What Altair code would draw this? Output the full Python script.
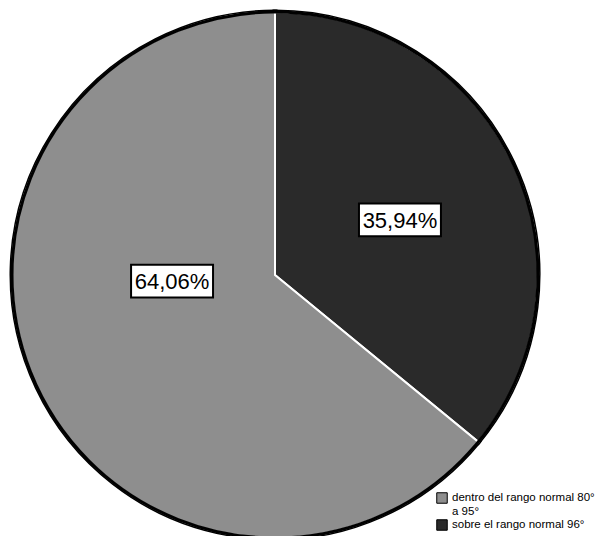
import altair as alt
import pandas as pd

# Temperature categories and their share of the sample (%)
categorias = ["sobre el rango normal 96°", "dentro del rango normal 80° a 95°"]
porcentajes = [35.94, 64.06]
orden = [0, 1]
colores = ["#2a2a2a", "#8e8e8e"]
leyenda = ["dentro del rango normal 80° a 95°", "sobre el rango normal 96°"]

df = pd.DataFrame({"categoria": categorias, "pct": porcentajes, "orden": orden})

R = 263  # pie radius in px

base = alt.Chart(df)

color = alt.Color(
    "categoria:N",
    scale=alt.Scale(domain=leyenda, range=[colores[1], colores[0]]),
    legend=alt.Legend(
        title=None,
        orient="none",
        legendX=436,
        legendY=492,
        symbolType="square",
        symbolSize=110,
        symbolStrokeColor="black",
        symbolStrokeWidth=1,
        symbolOpacity=1,
        labelFont="Liberation Sans",
        labelFontSize=11.5,
        labelColor="black",
        labelLimit=200,
        rowPadding=0,
        labelOffset=4,
        labelExpr="datum.label == 'dentro del rango normal 80° a 95°' ? ['dentro del rango normal 80°', 'a 95°'] : datum.label",
    ),
)

# Slices with a white gap between them, edged in black
slices_under = base.mark_arc(outerRadius=R, stroke="black", strokeWidth=5).encode(
    theta=alt.Theta("pct:Q", stack=True),
    order=alt.Order("orden:Q"),
    color=color,
)
slices_over = base.mark_arc(outerRadius=R, stroke="white", strokeWidth=2).encode(
    theta=alt.Theta("pct:Q", stack=True),
    order=alt.Order("orden:Q"),
    color=alt.Color("categoria:N", scale=alt.Scale(domain=leyenda, range=[colores[1], colores[0]]), legend=None),
)
outline = base.mark_arc(outerRadius=R, fill=None, stroke="black", strokeWidth=3).encode(
    theta=alt.Theta("sum(pct):Q"),
)

# Label anchor at the middle angle of each slice
lab = base.transform_window(
    cum="sum(pct)", sort=[alt.SortField("orden")], frame=[None, 0]
).transform_calculate(
    mid="(datum.cum - datum.pct / 2) / 100 * 2 * PI",
    lx="136 * sin(datum.mid)",
    ly="136 * cos(datum.mid)",
    txt="replace(format(datum.pct, '.2f'), '.', ',') + '%'",
)

xs = alt.X("lx:Q", scale=alt.Scale(domain=[-275, 275]), axis=None)
ys = alt.Y("ly:Q", scale=alt.Scale(domain=[-275, 275]), axis=None)

offsets = {categorias[0]: (2, 3), categorias[1]: (20, -52)}
label_layers = []
for cat, (ox, oy) in offsets.items():
    sub = lab.transform_filter(alt.datum.categoria == cat)
    box = sub.mark_point(
        shape="M-1.25,-0.5L1.25,-0.5L1.25,0.5L-1.25,0.5Z",
        size=4300,
        filled=True,
        fill="white",
        stroke="black",
        strokeWidth=2,
        opacity=1,
        xOffset=ox,
        yOffset=oy,
    ).encode(x=xs, y=ys)
    txt = sub.mark_text(
        font="Liberation Sans",
        fontSize=22,
        color="black",
        xOffset=ox,
        yOffset=oy + 1,
        baseline="middle",
        align="center",
    ).encode(x=xs, y=ys, text="txt:N")
    label_layers += [box, txt]

chart = alt.layer(slices_under, slices_over, outline, *label_layers).resolve_scale(
    x="independent", y="independent"
).properties(
    width=550,
    height=550,
    autosize=alt.AutoSizeParams(type="none"),
    padding={"left": 0, "top": 0, "right": 55, "bottom": 0},
    background="white",
).configure_view(stroke=None)

chart.save("out.html", embed_options={"renderer": "svg", "actions": False})
